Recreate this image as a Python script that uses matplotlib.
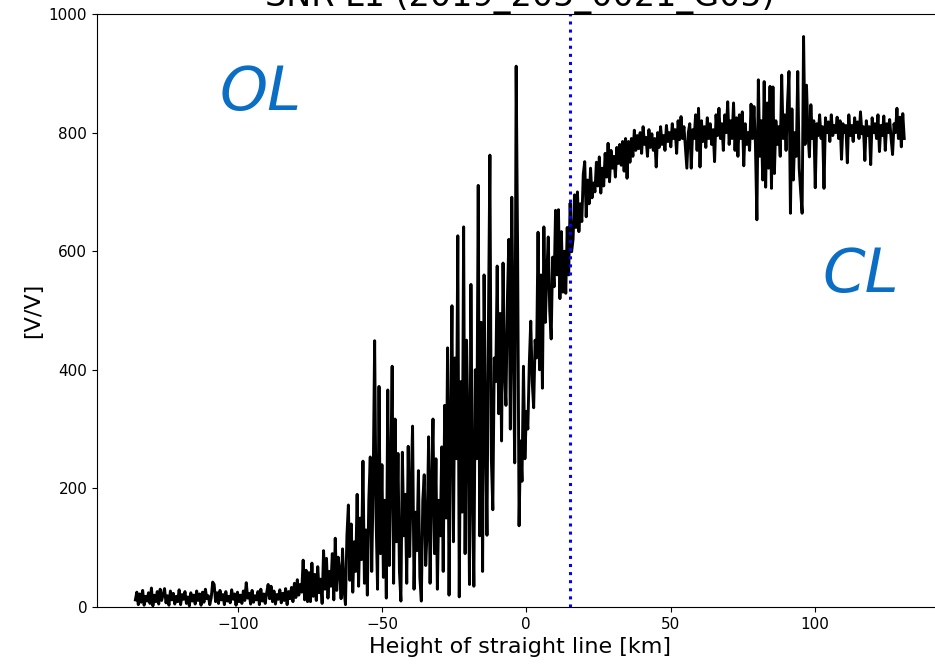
import numpy as np
import matplotlib
matplotlib.use("Agg")
import matplotlib.pyplot as plt

title = "SNR L1 (2019_205_0021_G05)"
x_label = "Height of straight line [km]"
y_label = "[V/V]"
x_start, x_end = -135.5, 131.0
cl_ol_boundary = 15.0

# SNR values, 0.5 km-ish spacing
ol_quiet = [
    12, 25, 4, 22, 8, 28, 3, 18, 10, 24, 6, 32, 2, 20, 9, 26, 5, 30, 11, 21,
    31, 7, 19, 3, 27, 12, 23, 5, 18, 9, 29, 4, 21, 13, 26, 6, 17, 2, 24, 10,
    20, 5, 27, 11, 22, 3, 25, 8, 30, 14, 19, 4, 16, 42, 38, 9, 24, 6, 28, 12,
    21, 4, 26, 10, 18, 7, 29, 13, 22, 3, 25, 9, 20, 6, 27, 11, 41, 15, 23, 5,
    28, 8, 19, 12, 26, 4, 30, 10, 22, 6, 24, 38, 14, 35, 9, 27, 5, 21, 13, 29,
]
ol_rise = [
    7, 23, 11, 31, 4, 26, 14, 33, 9, 40, 16, 46, 20, 38, 25, 79, 12, 62, 9, 58,
    9, 74, 18, 55, 11, 68, 24, 47, 6, 95, 30, 82, 15, 60, 35, 90, 12, 116, 28, 84,
    62, 14, 98, 30, 4, 120, 172, 45, 140, 25, 110, 60, 190, 35, 150, 80, 246, 40, 130, 20,
    180, 253, 60, 210, 449, 150, 30, 372, 90, 240, 50, 180, 15, 366, 70, 220, 406, 40, 317, 110,
    259, 60, 10, 261, 120, 190, 40, 271, 85, 200, 305, 30, 160, 95, 230, 50, 10, 180, 223, 70,
]
transition = [
    130, 287, 40, 200, 317, 90, 250, 30, 180, 120, 270, 60, 340, 150, 437, 20, 300, 508, 110, 420,
    250, 626, 17, 380, 160, 641, 90, 450, 300, 38, 544, 200, 35, 400, 250, 711, 120, 480, 60, 560,
    300, 121, 480, 762, 250, 164, 420, 380, 575, 326, 495, 280, 580, 400, 340, 520, 620, 300, 691, 450,
    243, 912, 600, 137, 280, 212, 406, 250, 330, 300, 410, 482, 380, 336, 450, 420, 632, 400, 560, 369,
    641, 480, 560, 624, 500, 452, 590, 540, 669, 560, 670, 520, 633, 531, 600, 529, 640, 560, 681, 599,
    620, 695, 640, 700, 633, 680, 650, 730, 751, 658, 720, 680, 740, 690, 715, 700, 750, 710, 759, 698,
    740, 710, 765, 725, 782, 717, 770, 740, 760, 725, 775, 748, 780, 745, 785, 735, 790, 723, 785, 750,
]
cl_plateau = [
    790, 760, 804, 770, 795, 773, 800, 765, 810, 780, 792, 760, 805, 775, 798, 770, 790, 742, 800, 775,
    810, 780, 795, 770, 812, 785, 800, 776, 815, 790, 805, 765, 820, 788, 827, 790, 810, 775, 740, 800,
    815, 740, 805, 790, 830, 770, 841, 742, 820, 785, 810, 775, 825, 790, 815, 780, 805, 751, 830, 795,
    841, 790, 815, 770, 830, 800, 852, 780, 820, 790, 850, 770, 825, 760, 830, 790, 835, 744, 815, 780,
    800, 770, 848, 790, 844, 780, 653, 889, 760, 820, 720, 886, 708, 850, 740, 878, 706, 877, 731, 820,
    780, 810, 760, 897, 790, 830, 770, 850, 903, 664, 840, 720, 800, 760, 903, 740, 700, 664, 962, 780,
    880, 800, 759, 847, 790, 820, 707, 815, 795, 830, 790, 810, 706, 825, 800, 818, 785, 830, 795, 812,
    800, 826, 790, 820, 755, 815, 800, 812, 749, 830, 795, 812, 785, 825, 800, 818, 790, 835, 798, 810,
    753, 820, 795, 810, 746, 825, 800, 815, 790, 830, 768, 812, 795, 828, 770, 815, 800, 822, 790, 763,
    815, 800, 841, 790, 826, 776, 832, 790,
]

snr = np.array(ol_quiet + ol_rise + transition + cl_plateau, dtype=float)
height = np.linspace(x_start, x_end, len(snr))

fig = plt.figure(figsize=(9.35, 6.67), dpi=100)
ax = fig.add_axes([97 / 935, 60 / 667, 0.9044, 593 / 667])
ax.plot(height, snr, color="black", lw=2.1)
ax.axvline(cl_ol_boundary, color="blue", ls=":", lw=2.2)
ax.set_ylim(0, 1000)
ax.set_xlim(-148.8, 144.3)
ax.set_xticks([-100, -50, 0, 50, 100])
ax.set_yticks([0, 200, 400, 600, 800, 1000])
ax.tick_params(labelsize=11)
ax.set_xlabel(x_label, fontsize=16)
ax.set_ylabel(y_label, fontsize=16)
ax.set_title(title, fontsize=24, pad=4.5)

fig.text(220 / 935, (667 - 110) / 667, "OL", color="#0A6EC4", fontsize=44,
         family="DejaVu Sans", style="italic", va="baseline", ha="left")
fig.text(822 / 935, (667 - 292) / 667, "CL", color="#0A6EC4", fontsize=44,
         family="DejaVu Sans", style="italic", va="baseline", ha="left")

fig.savefig("out.png", dpi=100)
